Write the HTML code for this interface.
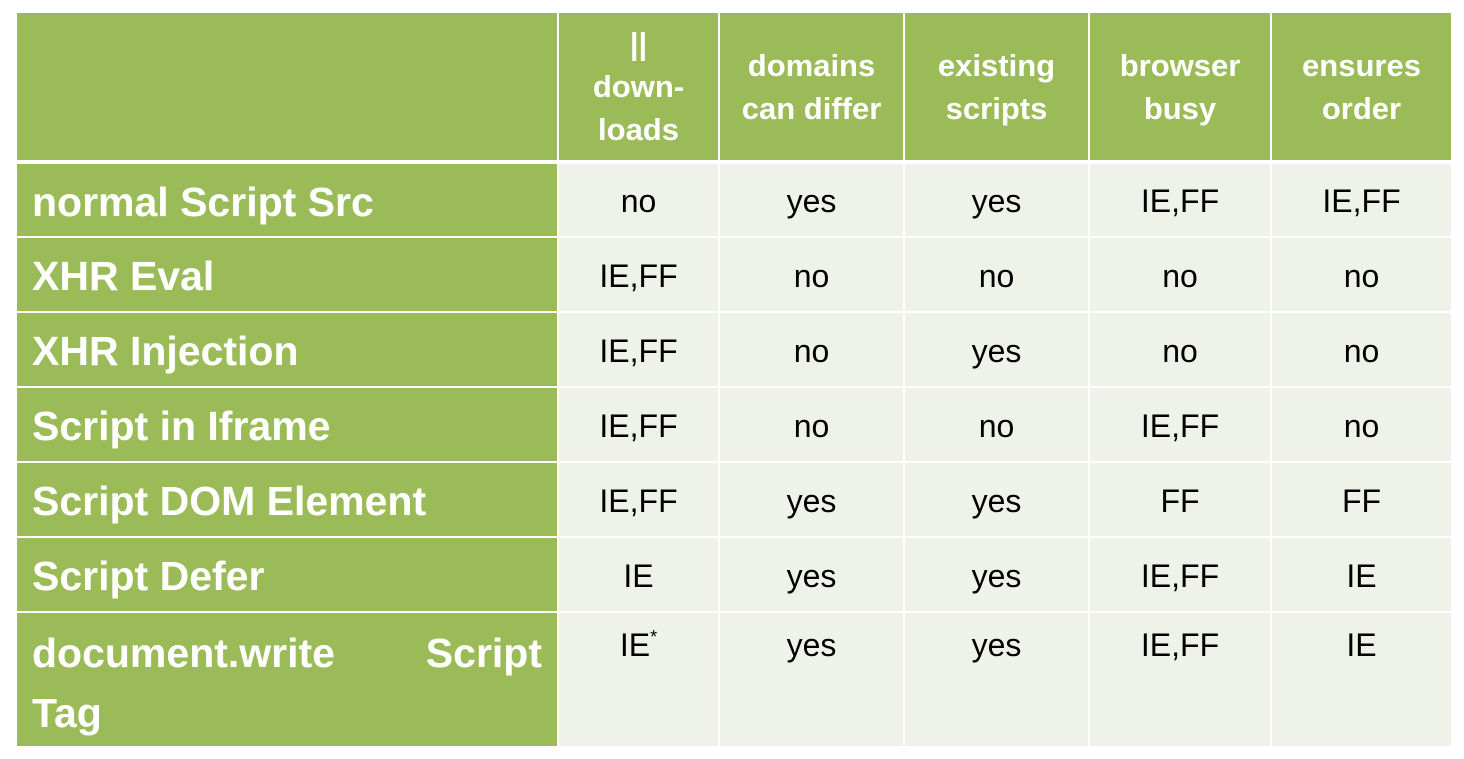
<!DOCTYPE html>
<html><head><meta charset="utf-8"><style>
body{margin:0;width:1464px;height:759px;background:#fff;position:relative;overflow:hidden;font-family:"Liberation Sans",Arial,sans-serif}
.c{position:absolute;box-sizing:border-box;display:flex;align-items:center;justify-content:center;text-align:center}
.g{background:#9BBB59;color:#fff;font-weight:bold}
.h{font-size:31px;line-height:43px}
.l{justify-content:flex-start;padding-left:15px;font-size:41px;padding-top:4px}
.d{background:#EFF2E8;color:#000;font-size:32px;padding-top:3px}
</style></head><body>
<div id="t"></div>
<script>
var xs=[17,559,720,905,1090,1272,1451];
var ys=[13,164,238,313,388,463,538,613,746];
var hdr=["","||<br>down-<br>loads","domains<br>can differ","existing<br>scripts","browser<br>busy","ensures<br>order"];
var rows=[["normal Script Src","no","yes","yes","IE,FF","IE,FF"],
["XHR Eval","IE,FF","no","no","no","no"],
["XHR Injection","IE,FF","no","yes","no","no"],
["Script in Iframe","IE,FF","no","no","IE,FF","no"],
["Script DOM Element","IE,FF","yes","yes","FF","FF"],
["Script Defer","IE","yes","yes","IE,FF","IE"],
["document.write Script Tag","IE<sup style='font-size:18px'>*</sup>","yes","yes","IE,FF","IE"]];
var h="";
for(var i=0;i<6;i++){
 var x0=xs[i], x1=xs[i+1]-(i<5?2:0);
 h+='<div class="c g h" style="left:'+x0+'px;top:13px;width:'+(x1-x0)+'px;height:147px">'+hdr[i]+'</div>';
}
for(var r=0;r<7;r++){
 var y0=ys[r+1], y1=ys[r+2]-(r<6?2:0);
 for(var i=0;i<6;i++){
  var x0=xs[i], x1=xs[i+1]-(i<5?2:0);
  var st='left:'+x0+'px;top:'+y0+'px;width:'+(x1-x0)+'px;height:'+(y1-y0)+'px;';
  if(r==6){
   if(i==0) h+='<div class="c g" style="'+st+'display:block;text-align:left;padding:10px 15px 0 15px;font-size:41px;line-height:60px"><div style="text-align:justify;text-align-last:justify;height:60px">document.write Script</div><div>Tag</div></div>';
   else h+='<div class="c d" style="'+st+'align-items:flex-start;padding-top:14px">'+rows[r][i]+'</div>';
  } else {
   h+='<div class="c '+(i==0?'g l':'d')+'" style="'+st+'">'+rows[r][i]+'</div>';
  }
 }
}
document.getElementById('t').innerHTML=h;
</script>
</body></html>
